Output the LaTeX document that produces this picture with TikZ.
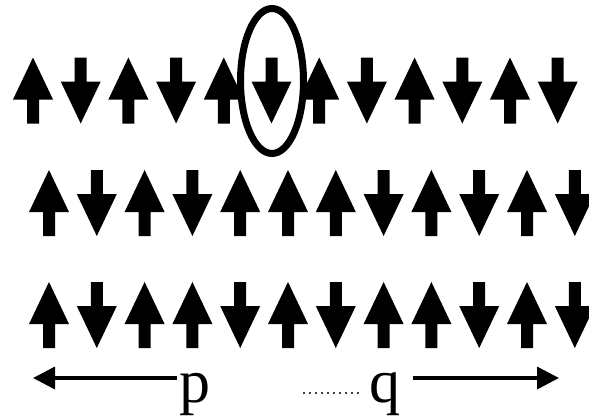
\documentclass[tikz,border=0pt]{standalone}
\usepackage{fontspec}
\setmainfont{Liberation Serif}
\usetikzlibrary{arrows.meta, positioning, calc}

\tikzset{
  pics/spin/.style={code={
    \fill (0,-33) -- (20,9) -- (6,9) -- (6,33) -- (-6,33) -- (-6,9) -- (-20,9) -- cycle;
  }},
  lbl/.style={font=\fontsize{62}{62}\selectfont, inner sep=2pt, anchor=base},
  axis/.style={line width=3.5pt, -{Triangle[length=22pt,width=22pt]}}
}

\begin{document}
\begin{tikzpicture}[x=1pt, y=-1pt]
        \useasboundingbox (0,0) rectangle (589,416);
        % First chain
        \foreach \r [count=\i from 0] in {0,180,0,180,0,180,0,180,0,180,0,180} {
            \pic[rotate=\r] at ({33+47.7*\i},90.5) {spin};
        }
        \draw[line width=7pt] (272,81) ellipse [x radius=31.5, y radius=72.5];

        % Second chain
        \foreach \r [count=\i from 0] in {0,180,0,180,0,0,0,180,0,180,0,180} {
            \pic[rotate=\r] at ({49+47.8*\i},203) {spin};
        }

        % Third chain
        \foreach \r [count=\i from 0] in {0,180,0,0,180,0,180,0,0,180,0,180} {
            \pic[rotate=\r] at ({49+47.8*\i},315) {spin};
        }

        % Labels and directions
        \coordinate (pl) at (33,378);
        \coordinate (qr) at (559,378);
        \coordinate (dl) at (303,393);
        \node[lbl] (p) at (195,402) {p};
        \node[lbl] (q) at (385,402) {q};
        \draw[axis] (p.west |- pl) -- (pl);
        \draw[axis, shorten <=10pt] (q.east |- qr) -- (qr);
        \draw[black!75, line width=2pt, dash pattern=on 2pt off 4pt] (dl) -- ([xshift=-5pt]q.west |- dl);
    \end{tikzpicture}
\end{document}
